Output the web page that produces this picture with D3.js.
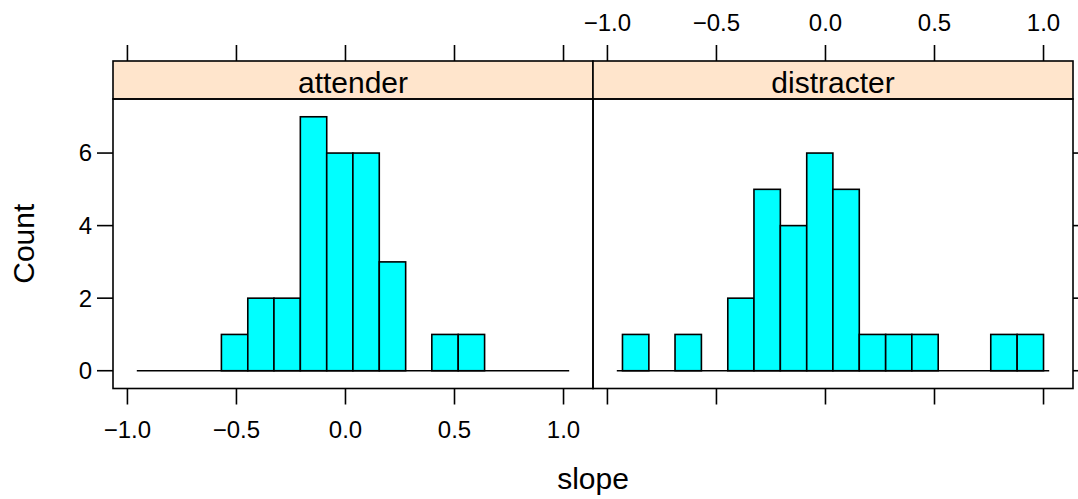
<!DOCTYPE html>
<html>
<head>
<meta charset="utf-8">
<script src="https://cdn.jsdelivr.net/npm/d3@7"></script>
<style>
  html, body { margin: 0; padding: 0; background: #fff; }
  svg text { font-family: "Liberation Sans", Arial, Helvetica, sans-serif; fill: #000; }
</style>
</head>
<body>
<svg id="chart" width="1078" height="499"></svg>
<script>
// histogram breaks shared by both panels
const breaks = [-0.931, -0.810, -0.690, -0.569, -0.448, -0.328, -0.207, -0.086,
                0.034, 0.155, 0.276, 0.396, 0.517, 0.638, 0.758, 0.879, 1.000];

const panels = ['attender', 'distracter'];

const attenderCounts   = [0, 0, 0, 1, 2, 2, 7, 6, 6, 3, 0, 1, 1, 0, 0, 0];
const distracterCounts = [1, 0, 1, 0, 2, 5, 4, 6, 5, 1, 1, 1, 0, 0, 1, 1];

const xTicks = [-1.0, -0.5, 0.0, 0.5, 1.0];
const yTicks = [0, 2, 4, 6];

const xLabel = 'slope';
const yLabel = 'Count';

// layout
const W          = 1078;
const panelLeft  = 113;
const panelW     = 480;
const panelTop   = 99;
const panelBot   = 388.5;
const stripTop   = 61;
const tickLen    = 16;
const lineW      = 1.6;
const tickFont   = 24;
const labelFont  = 30;

const countsByPanel = [attenderCounts, distracterCounts];

// lattice extends limits by 7%
const brRange = breaks[breaks.length - 1] - breaks[0];
const xDomain = [breaks[0] - 0.07 * brRange, breaks[breaks.length - 1] + 0.07 * brRange];
const yMax    = d3.max(countsByPanel.flat());
const yDomain = [-0.07 * yMax, yMax * 1.07];

const y = d3.scaleLinear().domain(yDomain).range([panelBot, panelTop]);

const svg = d3.select('#chart');
const fmt = d3.format('.1f');

panels.forEach((name, p) => {
  const x0 = panelLeft + p * panelW;
  const x  = d3.scaleLinear().domain(xDomain).range([x0, x0 + panelW]);
  const g  = svg.append('g').classed('panel', true);

  const bins = countsByPanel[p].map((c, i) => ({x0: breaks[i], x1: breaks[i + 1], count: c}));

  // baseline under the bins
  g.append('line')
    .attr('x1', x(breaks[0] - 0.026))
    .attr('x2', x(breaks[breaks.length - 1] + 0.026))
    .attr('y1', y(0))
    .attr('y2', y(0))
    .attr('stroke', '#000')
    .attr('stroke-width', lineW);

  g.selectAll('rect.bar')
    .data(bins.filter(d => d.count > 0))
    .join('rect')
    .classed('bar', true)
    .attr('x', d => x(d.x0))
    .attr('width', d => x(d.x1) - x(d.x0))
    .attr('y', d => y(d.count))
    .attr('height', d => y(0) - y(d.count))
    .attr('fill', '#00ffff')
    .attr('stroke', '#000')
    .attr('stroke-width', lineW);

  // strip
  g.append('rect')
    .attr('x', x0)
    .attr('y', stripTop)
    .attr('width', panelW)
    .attr('height', panelTop - stripTop)
    .attr('fill', '#ffe5cc')
    .attr('stroke', '#000')
    .attr('stroke-width', lineW);

  g.append('text')
    .attr('x', x0 + panelW / 2)
    .attr('y', 93)
    .attr('text-anchor', 'middle')
    .attr('font-size', labelFont)
    .text(name);

  // panel border
  g.append('rect')
    .attr('x', x0)
    .attr('y', panelTop)
    .attr('width', panelW)
    .attr('height', panelBot - panelTop)
    .attr('fill', 'none')
    .attr('stroke', '#000')
    .attr('stroke-width', lineW);

  // bottom ticks
  const bottom = g.append('g');
  bottom.selectAll('line')
    .data(xTicks)
    .join('line')
    .attr('x1', d => x(d)).attr('x2', d => x(d))
    .attr('y1', panelBot).attr('y2', panelBot + tickLen)
    .attr('stroke', '#000').attr('stroke-width', lineW);
  if (p === 0) {
    bottom.selectAll('text')
      .data(xTicks)
      .join('text')
      .attr('x', d => x(d))
      .attr('y', 438)
      .attr('text-anchor', 'middle')
      .attr('font-size', tickFont)
      .text(d => fmt(d));
  }

  // top ticks
  const top = g.append('g');
  top.selectAll('line')
    .data(xTicks)
    .join('line')
    .attr('x1', d => x(d)).attr('x2', d => x(d))
    .attr('y1', stripTop).attr('y2', stripTop - tickLen)
    .attr('stroke', '#000').attr('stroke-width', lineW);
  if (p === 1) {
    top.selectAll('text')
      .data(xTicks)
      .join('text')
      .attr('x', d => x(d))
      .attr('y', 31)
      .attr('text-anchor', 'middle')
      .attr('font-size', tickFont)
      .text(d => fmt(d));
  }

  // y ticks: left on first panel, right on last
  const yg = g.append('g');
  if (p === 0) {
    yg.selectAll('line')
      .data(yTicks)
      .join('line')
      .attr('x1', x0 - tickLen).attr('x2', x0)
      .attr('y1', d => y(d)).attr('y2', d => y(d))
      .attr('stroke', '#000').attr('stroke-width', lineW);
    yg.selectAll('text')
      .data(yTicks)
      .join('text')
      .attr('x', x0 - tickLen - 5)
      .attr('y', d => y(d))
      .attr('dy', '0.35em')
      .attr('text-anchor', 'end')
      .attr('font-size', tickFont)
      .text(d => d);
  } else {
    yg.selectAll('line')
      .data(yTicks)
      .join('line')
      .attr('x1', x0 + panelW).attr('x2', x0 + panelW + tickLen)
      .attr('y1', d => y(d)).attr('y2', d => y(d))
      .attr('stroke', '#000').attr('stroke-width', lineW);
  }
});

// axis titles
svg.append('text')
  .attr('x', panelLeft + panelW)
  .attr('y', 489)
  .attr('text-anchor', 'middle')
  .attr('font-size', labelFont)
  .text(xLabel);

svg.append('text')
  .attr('transform', `translate(34, ${(panelTop + panelBot) / 2}) rotate(-90)`)
  .attr('text-anchor', 'middle')
  .attr('font-size', labelFont)
  .text(yLabel);
</script>
</body>
</html>
